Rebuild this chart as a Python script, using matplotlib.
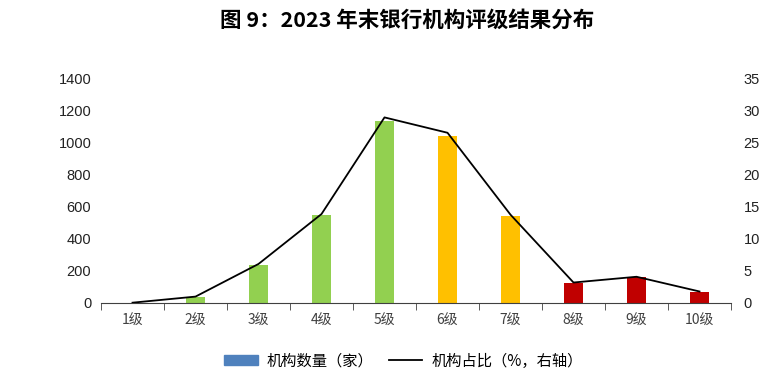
import numpy as np
import matplotlib.pyplot as plt
from matplotlib.patches import Patch
from matplotlib.lines import Line2D

plt.rcParams['font.family'] = ['Liberation Sans', 'Noto Sans CJK SC', 'DejaVu Sans']

grades = ['1级', '2级', '3级', '4级', '5级', '6级', '7级', '8级', '9级', '10级']
counts = [0, 36, 239, 550, 1137, 1044, 546, 123, 160, 67]
share = [0.05, 1.0, 6.1, 13.9, 29.0, 26.6, 13.8, 3.2, 4.1, 1.8]
bar_colors = ['#92D050'] * 5 + ['#FFC000'] * 2 + ['#C00000'] * 3

fig = plt.figure(figsize=(7.79, 3.86), dpi=100)
ax = fig.add_axes([101 / 779, 1 - 303 / 386, 630 / 779, 224 / 386])
ax2 = ax.twinx()

x = np.arange(len(grades))
ax.bar(x, counts, width=0.3, color=bar_colors, zorder=2)
ax2.plot(x, share, color='black', lw=1.3, zorder=3)

ax.set_xlim(-0.5, len(grades) - 0.5)
ax.set_ylim(0, 1400)
ax.set_yticks(range(0, 1401, 200))
ax2.set_ylim(0, 35)
ax2.set_yticks(range(0, 36, 5))

ax.set_xticks(x)
ax.set_xticklabels(grades, family=['Noto Sans CJK SC'], fontsize=10)
ax.set_xticks(np.arange(-0.5, len(grades)), minor=True)
ax.tick_params(axis='x', which='major', length=0, pad=8, colors='#404040')
ax.tick_params(axis='x', which='minor', length=5, direction='out', color='#404040')
ax.tick_params(axis='y', length=0, labelsize=10.5, pad=7, colors='#222222')
ax2.tick_params(axis='y', length=0, labelsize=10.5, pad=9, colors='#222222')

for a in (ax, ax2):
    for s in ('top', 'left', 'right'):
        a.spines[s].set_visible(False)
ax.spines['bottom'].set_color('#404040')
ax2.spines['bottom'].set_visible(False)

fig.text(0.522, 1 - 20 / 386, '图 9：2023 年末银行机构评级结果分布', ha='center', va='center',
         fontsize=15.5, fontweight='bold', family=['Noto Sans CJK SC'])

handles = [Patch(color='#4F81BD'), Line2D([0], [0], color='black', lw=1.3)]
labels = ['机构数量（家）', '机构占比（%，右轴）']
fig.legend(handles, labels, loc='center', bbox_to_anchor=(0.518, 1 - 361 / 386), ncol=2,
           frameon=False, prop={'family': 'Noto Sans CJK SC', 'size': 11},
           handlelength=2.2, handleheight=0.55, columnspacing=1.0, handletextpad=0.6)

fig.savefig('out.png', dpi=100)
